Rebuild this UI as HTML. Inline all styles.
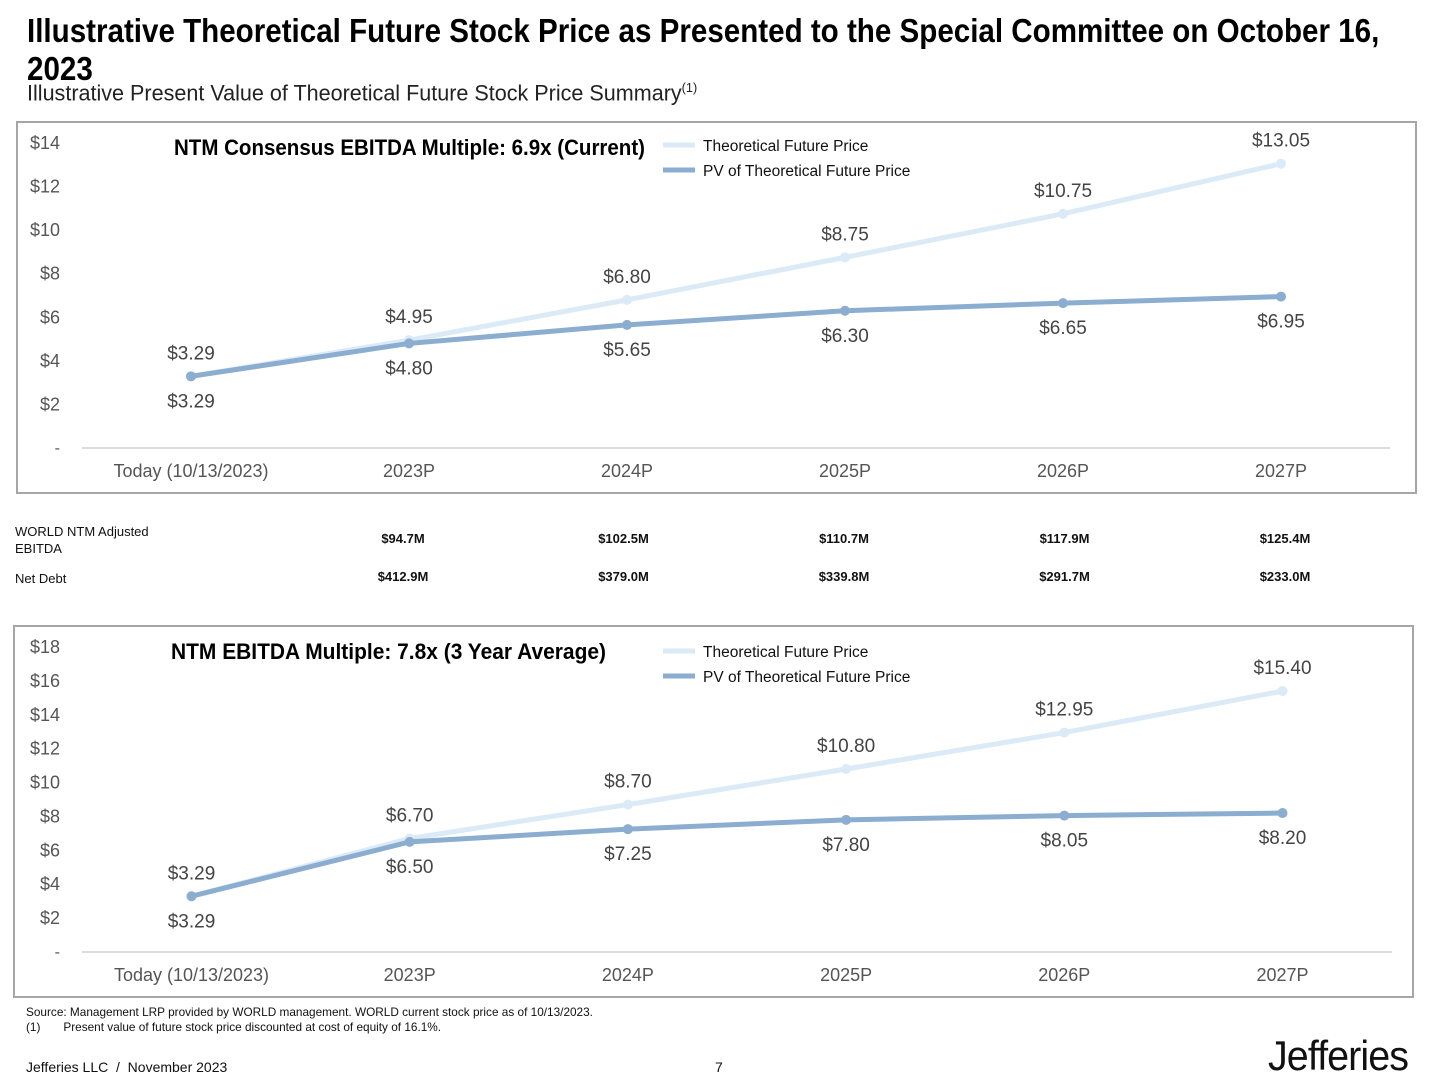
<!DOCTYPE html>
<html><head><meta charset="utf-8"><style>
body{margin:0;width:1440px;height:1080px;background:#fff;font-family:"Liberation Sans",sans-serif;position:relative;overflow:hidden}
.abs{position:absolute}
.title{left:27px;top:12px;font-weight:bold;font-size:33px;line-height:38px;color:#000;width:1540px;transform:scaleX(0.896);transform-origin:left top}
.sub{left:27px;top:80px;font-size:22px;color:#222;transform:scaleX(0.98);transform-origin:left top}
.tbl{font-size:13px;color:#111}
.tv{font-weight:bold;font-size:13px}
svg text{font-family:"Liberation Sans",sans-serif}
</style></head><body>
<div class="abs title">Illustrative Theoretical Future Stock Price as Presented to the Special Committee on October 16, 2023</div>
<div class="abs sub">Illustrative Present Value of Theoretical Future Stock Price Summary<sup style="font-size:13px">(1)</sup></div>

<svg class="abs" style="left:0;top:0" width="1440" height="1080" id="charts"></svg>

<div class="abs tbl" style="left:15px;top:523px;line-height:17px">WORLD NTM Adjusted<br>EBITDA</div>
<div class="abs tbl" style="left:15px;top:571px">Net Debt</div>
<div id="tblvals"></div>

<div class="abs" style="left:26px;top:1005px;font-size:11.8px;color:#111">Source: Management LRP provided by WORLD management. WORLD current stock price as of 10/13/2023.</div>
<div class="abs" style="left:26px;top:1020px;font-size:11.8px;color:#111">(1)&nbsp;&nbsp;&nbsp;&nbsp;&nbsp;&nbsp;&nbsp;Present value of future stock price discounted at cost of equity of 16.1%.</div>
<div class="abs" style="left:26px;top:1059px;font-size:14px;color:#111">Jefferies LLC&nbsp; / &nbsp;November 2023</div>
<div class="abs" style="left:715px;top:1059px;font-size:14px;color:#111">7</div>
<div class="abs" style="left:1268px;top:1032px;font-size:42px;color:#111;letter-spacing:-1px;transform:scaleX(0.94);transform-origin:left top">Jefferies</div>

<script>
const categories=["Today (10/13/2023)","2023P","2024P","2025P","2026P","2027P"];
const theo1=[3.29,4.95,6.80,8.75,10.75,13.05];
const pv1=[3.29,4.80,5.65,6.30,6.65,6.95];
const ticks1=[2,4,6,8,10,12,14];
const theo2=[3.29,6.70,8.70,10.80,12.95,15.40];
const pv2=[3.29,6.50,7.25,7.80,8.05,8.20];
const ticks2=[2,4,6,8,10,12,14,16,18];
const ebitda=["$94.7M","$102.5M","$110.7M","$117.9M","$125.4M"];
const netDebt=["$412.9M","$379.0M","$339.8M","$291.7M","$233.0M"];

const NS="http://www.w3.org/2000/svg";
const svg=document.getElementById('charts');
function mk(tag,attrs,parent){const e=document.createElementNS(NS,tag);for(const k in attrs)e.setAttribute(k,attrs[k]);(parent||svg).appendChild(e);return e;}
function txt(x,y,s,attrs){const t=mk('text',Object.assign({x:x,y:y},attrs));t.textContent=s;return t;}

function chart(o){
  const g=mk('g',{});
  
  
  const box=mk('rect',{x:o.bx,y:o.by,width:o.bw,height:o.bh,fill:'none',stroke:'#a6a6a6','stroke-width':2},g);
  
  
  const xs=i=>o.x0+i*o.dx;
  const ys=v=>o.y0-v*o.ky;
  const ax=mk('line',{x1:82,x2:o.ax2,y1:o.y0,y2:o.y0,stroke:'#d0d0d0','stroke-width':1.5},g);
  
  
  const z=txt(60,o.y0+5,'-',{'font-size':16,fill:'#555','text-anchor':'end'});g.appendChild(z);
  
  
  o.ticks.forEach(v=>{const t=txt(60,ys(v)+6,'$'+v,{'font-size':18,fill:'#555','text-anchor':'end'});g.appendChild(t);
    
    });
  categories.forEach((c,i)=>{const t=txt(xs(i),o.y0+29,c,{'font-size':18,fill:'#555','text-anchor':'middle'});g.appendChild(t);
    
    });
  [[o.theo,'#dbeaf7','theoretical-line'],[o.pv,'#8badd0','pv-line']].forEach(([d,col,nm],si)=>{
    const p=mk('polyline',{points:d.map((v,i)=>xs(i)+','+ys(v)).join(' '),fill:'none',stroke:col,'stroke-width':5},g);
    
    
    d.forEach((v,i)=>{const c=mk('circle',{cx:xs(i),cy:ys(v),r:5,fill:col},g);
      
      
      const ly=si===0?ys(v)-17:ys(v)+31;
      const t=txt(xs(i),ly,'$'+v.toFixed(2),{'font-size':19,fill:'#444','text-anchor':'middle'});g.appendChild(t);
      
      });
  });
  const tt=txt(o.tx,o.ty,o.title,{'font-size':22,'font-weight':'bold',fill:'#000',textLength:o.tw,lengthAdjust:'spacingAndGlyphs'});g.appendChild(tt);
  
  
  [['#dbeaf7','Theoretical Future Price'],['#8badd0','PV of Theoretical Future Price']].forEach(([col,l],k)=>{
    const y=o.ly+k*25;
    const ln=mk('line',{x1:663,x2:695,y1:y,y2:y,stroke:col,'stroke-width':5},g);
    
    
    const t=txt(703,y+6,l,{'font-size':15.5,fill:'#111'});g.appendChild(t);
    
    
  });
}
chart({name:'chart-current-multiple',bx:17,by:122,bw:1399,bh:371,x0:191,dx:218,y0:448,ky:305/14,ax2:1390,ticks:ticks1,theo:theo1,pv:pv1,title:'NTM Consensus EBITDA Multiple: 6.9x (Current)',tx:174,ty:155,tw:471,ly:145});
chart({name:'chart-average-multiple',bx:14,by:626,bw:1399,bh:371,x0:191.5,dx:218.2,y0:952,ky:305/18,ax2:1392,ticks:ticks2,theo:theo2,pv:pv2,title:'NTM EBITDA Multiple: 7.8x (3 Year Average)',tx:171,ty:659,tw:435,ly:651});

const tv=document.getElementById('tblvals');
[[ebitda,531,'ebitda-value'],[netDebt,569,'net-debt-value']].forEach(([arr,y,nm])=>{
  arr.forEach((v,i)=>{const d=document.createElement('div');
    d.className='abs tbl tv';d.style.left=(403+i*220.5-40)+'px';d.style.width='80px';d.style.textAlign='center';d.style.top=y+'px';d.textContent=v;
    
    
    tv.appendChild(d);});
});
</script>
</body></html>
